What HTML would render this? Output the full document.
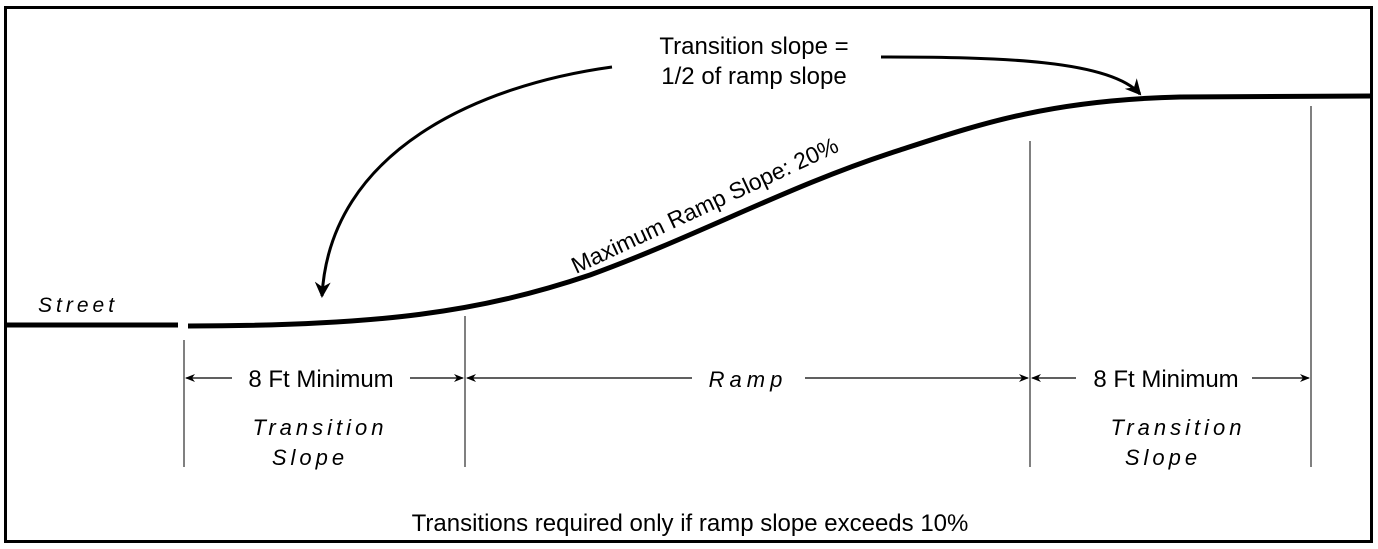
<!DOCTYPE html>
<html><head><style>
body{margin:0;background:#fff;}
svg{display:block}
text{font-family:"Liberation Sans",sans-serif;fill:#000}
</style></head><body>
<svg width="1378" height="549" viewBox="0 0 1378 549" xmlns="http://www.w3.org/2000/svg">
<defs>
<marker id="a" markerWidth="10" markerHeight="8" refX="9" refY="4" orient="auto" markerUnits="userSpaceOnUse"><path d="M0,0 L10,4 L0,8 L3,4 Z" fill="#000"/></marker>
<marker id="b" markerWidth="18" markerHeight="16" refX="14" refY="8" orient="auto" markerUnits="userSpaceOnUse"><path d="M0,0 L16,8 L0,16 L5,8 Z" fill="#000"/></marker>
</defs>
<rect x="5.5" y="7.5" width="1366" height="534" fill="none" stroke="#000" stroke-width="3"/>
<line x1="5" y1="325" x2="178" y2="325" stroke="#000" stroke-width="5"/>
<path d="M188,326 C380,326 480,312 590,275 C700,235 790,185 900,150 C980,124 1050,100 1180,97 L1372,96" fill="none" stroke="#000" stroke-width="5"/>
<g stroke="#000" stroke-width="1">
<line x1="184" y1="340" x2="184" y2="467"/>
<line x1="465" y1="316" x2="465" y2="467"/>
<line x1="1030" y1="141" x2="1030" y2="467"/>
<line x1="1311" y1="106" x2="1311" y2="467"/>
</g>
<g stroke="#000" stroke-width="1.2" fill="none">
<line x1="232" y1="378" x2="186" y2="378" marker-end="url(#a)"/>
<line x1="410" y1="378" x2="463" y2="378" marker-end="url(#a)"/>
<line x1="692" y1="378" x2="467" y2="378" marker-end="url(#a)"/>
<line x1="805" y1="378" x2="1028" y2="378" marker-end="url(#a)"/>
<line x1="1076" y1="378" x2="1032" y2="378" marker-end="url(#a)"/>
<line x1="1252" y1="378" x2="1309" y2="378" marker-end="url(#a)"/>
</g>
<path d="M612,67 C480,85 330,150 322,296" fill="none" stroke="#000" stroke-width="3" marker-end="url(#b)"/>
<path d="M881,57 C1000,57 1110,60 1140,94" fill="none" stroke="#000" stroke-width="3" marker-end="url(#b)"/>
<g font-size="24">
<text x="38" y="312" font-style="italic" letter-spacing="4" font-size="21">Street</text>
<text x="321" y="387" text-anchor="middle">8 Ft Minimum</text>
<text x="1166" y="387" text-anchor="middle">8 Ft Minimum</text>
<text x="748" y="387" text-anchor="middle" font-style="italic" letter-spacing="5" font-size="22">Ramp</text>
<text x="320" y="435" text-anchor="middle" font-style="italic" letter-spacing="4" font-size="22">Transition</text>
<text x="310" y="465" text-anchor="middle" font-style="italic" letter-spacing="4" font-size="22">Slope</text>
<text x="1178" y="435" text-anchor="middle" font-style="italic" letter-spacing="4" font-size="22">Transition</text>
<text x="1163" y="465" text-anchor="middle" font-style="italic" letter-spacing="4" font-size="22">Slope</text>
<text x="754" y="54" text-anchor="middle">Transition slope =</text>
<text x="754" y="84" text-anchor="middle">1/2 of ramp slope</text>
<text x="690" y="531" text-anchor="middle">Transitions required only if ramp slope exceeds 10%</text>
<text x="0" y="0" font-size="23" transform="translate(576,274) rotate(-25)">Maximum Ramp Slope: 20%</text>
</g>
</svg>
</body></html>
